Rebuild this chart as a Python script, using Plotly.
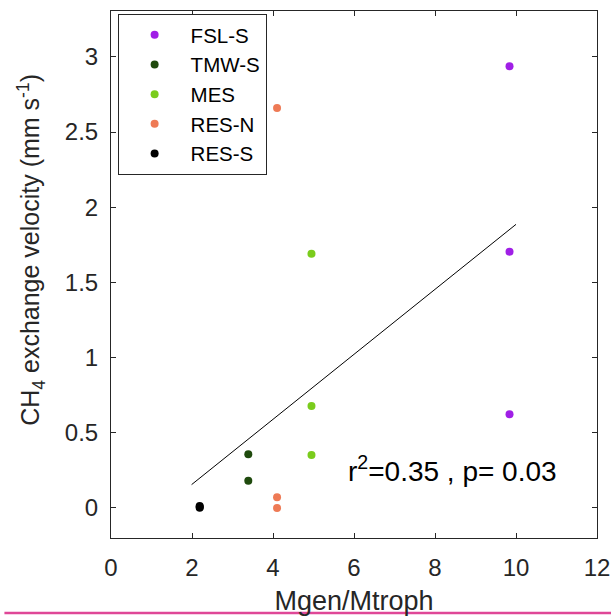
import plotly.graph_objects as go

# ---- data ----
series_names = ["FSL-S", "TMW-S", "MES", "RES-N", "RES-S"]
series_colors = ["#A01FE6", "#1F4A0D", "#7ACC1C", "#EE7A55", "#000000"]

fsl_x = [9.84, 9.84, 9.84]
fsl_y = [2.937, 1.704, 0.623]
tmw_x = [3.39, 3.39]
tmw_y = [0.357, 0.18]
mes_x = [4.95, 4.95, 4.95]
mes_y = [1.69, 0.678, 0.352]
resn_x = [4.10, 4.10, 4.10]
resn_y = [2.66, 0.071, 0.0]
ress_x = [2.19, 2.19, 2.19]
ress_y = [0.013, 0.001, 0.007]

fit_x = [1.99, 10.0]
fit_y = [0.155, 1.886]

x_ticks = [0, 2, 4, 6, 8, 10, 12]
y_ticks = [0, 0.5, 1, 1.5, 2, 2.5, 3]
y_ticktext = ["0", "0.5", "1", "1.5", "2", "2.5", "3"]

xs = [fsl_x, tmw_x, mes_x, resn_x, ress_x]
ys = [fsl_y, tmw_y, mes_y, resn_y, ress_y]

FONT = "Liberation Sans, Arial, Helvetica, sans-serif"
AX = "#262626"

fig = go.Figure()
for name, col, x, y in zip(series_names, series_colors, xs, ys):
    fig.add_trace(go.Scatter(x=x, y=y, mode="markers", name=name,
                             marker=dict(color=col, size=8, line=dict(width=0))))

fig.add_trace(go.Scatter(x=fit_x, y=fit_y, mode="lines", showlegend=False,
                         line=dict(color="#000000", width=1)))

axis_common = dict(showgrid=False, zeroline=False, showline=True, mirror="allticks",
                   linecolor=AX, linewidth=1, ticks="inside", ticklen=5,
                   tickcolor=AX, tickwidth=1, automargin=False,
                   tickfont=dict(family=FONT, size=24, color=AX))

fig.update_xaxes(range=[0, 12], tickvals=x_ticks, ticklabelstandoff=8,
                 title=dict(text="Mgen/Mtroph", font=dict(family=FONT, size=27, color=AX),
                            standoff=12),
                 **axis_common)
fig.update_yaxes(range=[-0.2, 3.305], tickvals=y_ticks, ticktext=y_ticktext,
                 ticklabelstandoff=7, **axis_common)

fig.add_annotation(text="CH<sub>4</sub> exchange velocity (mm s<sup>-1</sup>)",
                   xref="paper", yref="paper", x=-0.165, y=0.5465,
                   xanchor="center", yanchor="middle",
                   textangle=-90, showarrow=False,
                   font=dict(family=FONT, size=25, color=AX))

fig.add_annotation(text="r<sup>2</sup>=0.35 , p= 0.03", xref="x", yref="y",
                   x=5.8, y=0.26, xanchor="left", yanchor="middle",
                   showarrow=False, font=dict(family=FONT, size=28, color="#000000"))

fig.add_shape(type="line", xref="paper", yref="paper",
              x0=-0.2193, x1=1.03, y0=-0.1423, y1=-0.1423,
              line=dict(color="#DF4797", width=2.3))

fig.update_layout(
    width=611, height=616,
    margin=dict(l=111, r=14, t=11, b=78, autoexpand=False),
    paper_bgcolor="white", plot_bgcolor="white",
    font=dict(family=FONT, color=AX),
    legend=dict(x=0.0136, y=(538 - 14) / 527, xanchor="left", yanchor="top",
                bordercolor=AX, borderwidth=1, bgcolor="white",
                itemwidth=62, font=dict(family=FONT, size=20.5, color="#000000")),
)

fig.write_html("out.html")
